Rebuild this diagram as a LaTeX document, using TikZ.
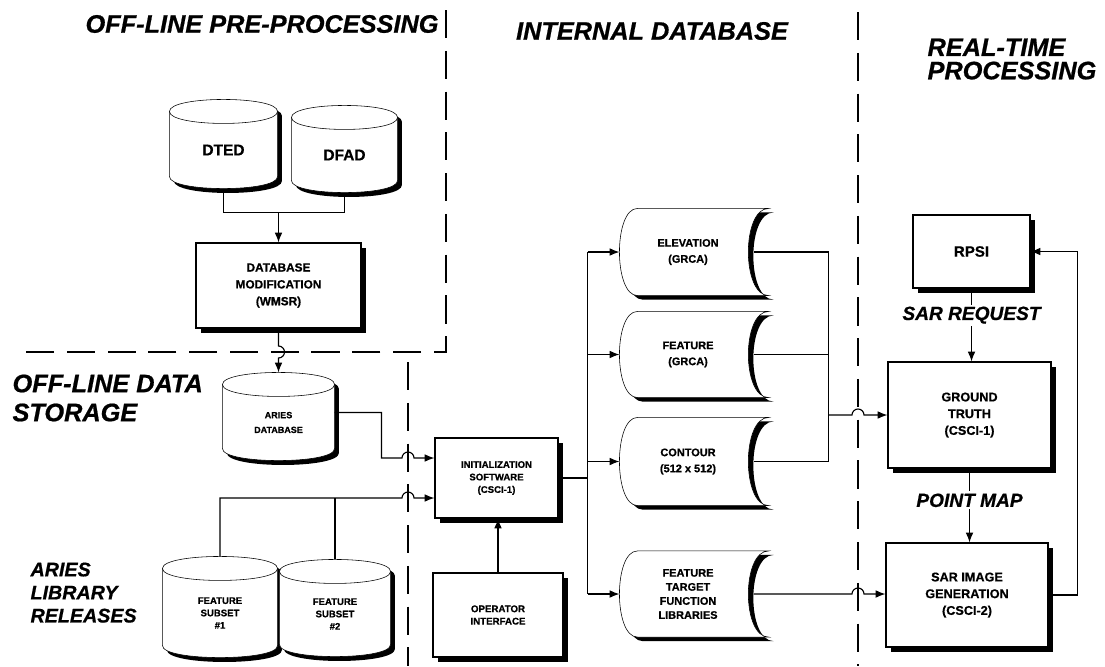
\documentclass[tikz,border=0pt]{standalone}
\usepackage{fontspec}
\setmainfont{Liberation Sans}[BoldFeatures={FakeBold=0.7}, BoldItalicFeatures={FakeBold=0.7}]
\usetikzlibrary{arrows.meta,calc,shadows,backgrounds}

% upright storage cylinder drawn round an empty node
\newcommand{\drawcyl}[1]{%
	\filldraw[fill=white, cylshadow] (#1.north west) -- ($(#1.south west)+(0,-12)$) .. controls +(0,16) and +(0,16) .. ($(#1.south east)+(0,-12)$) -- (#1.north east) .. controls +(0,-16) and +(0,-16) .. (#1.north west) -- cycle;
	\draw (#1.north west) .. controls +(0,16) and +(0,16) .. (#1.north east);
}
% stored data drum, concave end on the right
\newcommand{\drawdrum}[1]{%
	\filldraw[fill=white, drumshadow] ($(#1.north west)+(18,0)$) -- ($(#1.north east)+(12,0)$) .. controls +(-27,0) and +(-27,0) .. ($(#1.south east)+(12,0)$) -- ($(#1.south west)+(18,0)$) .. controls +(-24,0) and +(-24,0) .. ($(#1.north west)+(18,0)$) -- cycle;
}

\begin{document}
\begin{tikzpicture}[x=0.25mm, y=-0.25mm, >={Latex[length=7pt,width=5.5pt]}, line width=0.8pt]
	\tikzstyle{region}=[inner sep=0pt, align=left, font=\fontsize{18}{20.6}\selectfont\bfseries\itshape]
	\tikzstyle{flowlabel}=[fill=white, inner sep=1.5pt, font=\fontsize{13.6}{16}\selectfont\bfseries\itshape]
	\tikzstyle{divider}=[line width=1pt, dash pattern=on 20pt off 9pt]
	\tikzstyle{procbox}=[draw, fill=white, align=center, inner sep=1pt, drop shadow={fill=black, opacity=1, shadow xshift=1.25mm, shadow yshift=-1.25mm}]
	\tikzstyle{store}=[inner sep=0pt, align=center]
	\tikzstyle{cylshadow}=[drop shadow={fill=black, opacity=1, shadow xshift=1.1mm, shadow yshift=-1.1mm}]
	\tikzstyle{drumshadow}=[drop shadow={fill=black, opacity=1, shadow xshift=1.25mm, shadow yshift=-1mm}]

	\useasboundingbox (0,0) rectangle (1105,666);

	% section borders
	\coordinate (xm) at (408,0);
	\coordinate (xr) at (858,0);
	\coordinate (hd) at (0,352);
	\draw [divider] (446,10) -- (446,352) -- (23,352);
	\draw [divider] (408,362) -- (408,666);
	\draw [divider] (858,12) -- (858,666);

	\node (ttlpre) [region, anchor=west] at (85,24) {OFF-LINE PRE-PROCESSING};
	\node (ttlint) [region] at (652,31) {INTERNAL DATABASE};
	\node (ttlrt) [region, anchor=north west, font=\fontsize{18}{16.6}\selectfont\bfseries\itshape] at (927,38) {REAL-TIME\\PROCESSING};
	\node (ttlsto) [region, anchor=north west] at (12,374) {OFF-LINE DATA\\STORAGE};
	\node (ttllib) [region, anchor=north west, font=\fontsize{14}{16.4}\selectfont\bfseries\itshape] at (30,562) {ARIES\\LIBRARY\\RELEASES};

	% off-line stores
	\node (dted) [store, minimum width=26.75mm, minimum height=19mm, font=\fontsize{11}{13}\selectfont\bfseries] at (223.5,150) {DTED};
	\node (dfad) [store, minimum width=26.25mm, minimum height=18.5mm, font=\fontsize{11}{13}\selectfont\bfseries] at (344.5,155) {DFAD};
	\node (ariesdb) [store, minimum width=27.75mm, minimum height=18.75mm, font=\fontsize{6.4}{10.5}\selectfont\bfseries] at (278.5,422.5) {ARIES\\DATABASE};
	\node (fs1) [store, minimum width=28.5mm, minimum height=22mm, font=\fontsize{6.8}{8.8}\selectfont\bfseries] at (220,613) {FEATURE\\SUBSET\\\#1};
	\node (fs2) [store, minimum width=27.5mm, minimum height=21mm, font=\fontsize{6.8}{8.8}\selectfont\bfseries] at (335,614) {FEATURE\\SUBSET\\\#2};

	% internal database
	\node (elev) [store, minimum width=34mm, minimum height=21.5mm, font=\fontsize{7.8}{11.4}\selectfont\bfseries] at (688,252) {ELEVATION\\(GRCA)};
	\node (feat) [store, minimum width=34mm, minimum height=21.25mm, font=\fontsize{7.8}{11.4}\selectfont\bfseries] at (688,354.5) {FEATURE\\(GRCA)};
	\node (cont) [store, minimum width=34mm, minimum height=21.75mm, font=\fontsize{7.8}{11.4}\selectfont\bfseries] at (688,461.5) {CONTOUR\\(512 x 512)};
	\node (ftfl) [store, minimum width=34mm, minimum height=21.25mm, font=\fontsize{7.8}{10}\selectfont\bfseries] at (688,594) {FEATURE\\TARGET\\FUNCTION\\LIBRARIES};

	\begin{scope}[on background layer]
		\foreach \c in {dted,dfad,ariesdb,fs1,fs2} {\drawcyl{\c}}
		\foreach \d in {elev,feat,cont,ftfl} {\drawdrum{\d}}
	\end{scope}

	% processes
	\node (dbmod) [procbox, minimum width=41.25mm, minimum height=21.25mm, font=\fontsize{8.4}{12}\selectfont\bfseries] at (278.5,285.5) {DATABASE\\MODIFICATION\\(WMSR)};
	\node (init) [procbox, minimum width=30.75mm, minimum height=20mm, font=\fontsize{6.8}{8.9}\selectfont\bfseries] at (496.5,478) {INITIALIZATION\\SOFTWARE\\(CSCI-1)};
	\node (opif) [procbox, minimum width=32.5mm, minimum height=21mm, font=\fontsize{6.9}{8.8}\selectfont\bfseries] at (498,615) {OPERATOR\\INTERFACE};
	\node (rpsi) [procbox, minimum width=29.25mm, minimum height=18.25mm, font=\fontsize{10.7}{13}\selectfont\bfseries] at (971.5,251.5) {RPSI};
	\node (gt) [procbox, minimum width=40.75mm, minimum height=26.5mm, font=\fontsize{9}{11.9}\selectfont\bfseries] at (969.5,415) {GROUND\\TRUTH\\(CSCI-1)};
	\node (sar) [procbox, minimum width=40.5mm, minimum height=26mm, font=\fontsize{9}{11.9}\selectfont\bfseries] at (967,595) {SAR IMAGE\\GENERATION\\(CSCI-2)};

	% pre-processing flow
	\coordinate (join) at ($(dbmod.north)+(0,-30)$);
	\draw (dted.south) |- (join) -| (dfad.south);
	\draw [->] (join) -- (dbmod.north);
	\draw [->] (dbmod.south) -- ($(dbmod.south |- hd)+(0,-6)$) arc[start angle=90, end angle=-90, radius=1.5mm] -- ($(ariesdb.north)+(0,-12)$);

	% storage into initialization
	\draw [->] ($(ariesdb.east)+(0,-10)$) -| ($(init.west)+(-53,-20)$) -- ($(xm |- init.west)+(-6,-20)$) arc[start angle=180, end angle=0, radius=1.5mm] -- ($(init.west)+(0,-20)$);
	\coordinate (fsbus) at ($(init.west)+(0,20)$);
	\draw [->] ($(fs1.north)+(0,-12)$) |- ($(xm |- fsbus)+(-6,0)$) arc[start angle=180, end angle=0, radius=1.5mm] -- (fsbus);
	\draw ($(fs2.north)+(0,-12)$) -- (fs2.north |- fsbus);
	\draw [->] (opif.north) -- (opif.north |- init.south);

	% initialization into database
	\coordinate (trunk) at ($(init.east)+(29,0)$);
	\draw (init.east) -- (trunk);
	\draw (trunk |- elev.west) -- (trunk |- ftfl.west);
	\foreach \d in {elev,feat,cont,ftfl} \draw [->] (trunk |- \d.west) -- (\d.west);

	% database into real-time
	\coordinate (bus) at ($(elev.east)+(72,0)$);
	\draw ($(elev.east)+(-3,0)$) -| (bus |- cont.east) -- ($(cont.east)+(-3,0)$);
	\draw ($(feat.east)+(-3,0)$) -- (bus |- feat.east);
	\draw [->] (bus |- gt.west) -- ($(xr |- gt.west)+(-6,0)$) arc[start angle=180, end angle=0, radius=1.5mm] -- (gt.west);
	\draw [->] ($(ftfl.east)+(-3,0)$) -- ($(xr |- ftfl.east)+(-6,0)$) arc[start angle=180, end angle=0, radius=1.5mm] -- (sar.west |- ftfl.east);

	% real-time loop
	\draw [->] (rpsi.south) -- (rpsi.south |- gt.north) node[flowlabel, pos=0.365] (sarreq) {SAR REQUEST};
	\draw [->] (gt.south) -- (gt.south |- sar.north) node[flowlabel, pos=0.43] (ptmap) {POINT MAP};
	\draw [->] (sar.east) -- ++(29,0) |- (rpsi.east);
\end{tikzpicture}
\end{document}
